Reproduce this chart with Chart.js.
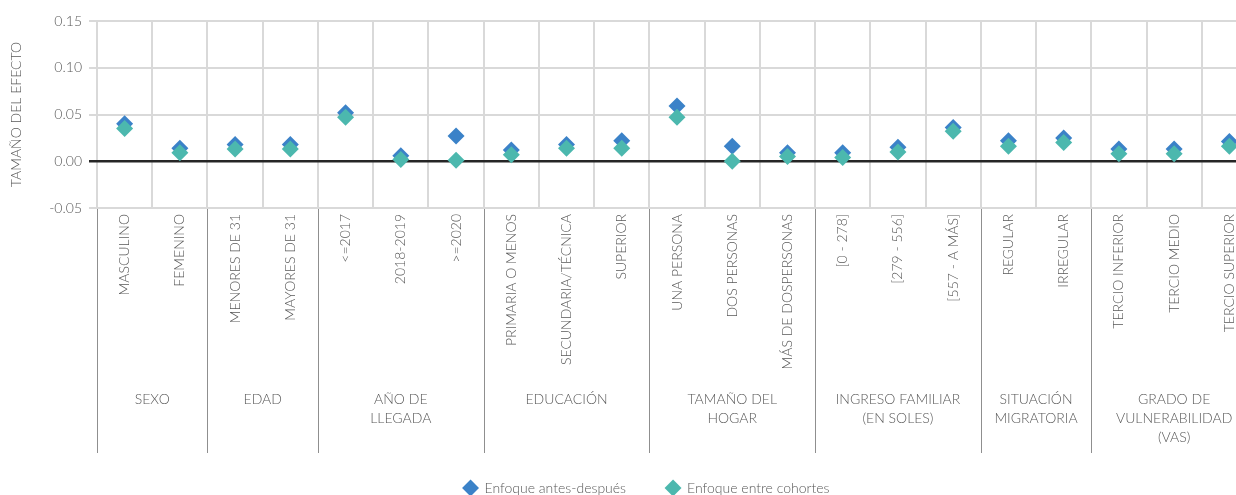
<!DOCTYPE html>
<html><head><meta charset="utf-8">
<script src="https://cdn.jsdelivr.net/npm/chart.js@4.4.1/dist/chart.umd.min.js"></script>
<style>
html,body{margin:0;padding:0;overflow:hidden;background:#fff;width:1236px;height:495px}
#wrap{position:absolute;left:0;top:0;width:1292px;height:495px}
</style></head><body>
<div id="wrap"><canvas id="c" width="1292" height="495"></canvas></div>
<script>
const categories = ["MASCULINO","FEMENINO","MENORES DE 31","MAYORES DE 31","<=2017","2018-2019",">=2020",
  "PRIMARIA O MENOS","SECUNDARIA/TÉCNICA","SUPERIOR","UNA PERSONA","DOS PERSONAS","MÁS DE DOSPERSONAS",
  "[0 - 278]","[279 - 556]","[557 - A MÁS]","REGULAR","IRREGULAR","TERCIO INFERIOR","TERCIO MEDIO","TERCIO SUPERIOR"];
const groupLabels = [["SEXO"],["EDAD"],["AÑO DE","LLEGADA"],["EDUCACIÓN"],["TAMAÑO DEL","HOGAR"],
  ["INGRESO FAMILIAR","(EN SOLES)"],["SITUACIÓN","MIGRATORIA"],["GRADO DE","VULNERABILIDAD","(VAS)"]];
const groupSizes = [2,2,3,3,3,3,2,3];
const antesDespues = [0.040,0.014,0.018,0.018,0.052,0.006,0.027,0.012,0.018,0.022,0.059,0.016,0.009,0.009,0.015,0.036,0.022,0.025,0.013,0.013,0.021];
const entreCohortes = [0.035,0.009,0.013,0.013,0.047,0.002,0.001,0.007,0.014,0.014,0.047,0.000,0.005,0.004,0.010,0.032,0.016,0.020,0.008,0.008,0.016];
const yTicks = [-0.05,0,0.05,0.10,0.15];
const seriesNames = ["Enfoque antes-después","Enfoque entre cohortes"];

const FONT = "Lato, 'Open Sans', sans-serif";
const WEIGHT = "300";
const TXT = "#595959";
const BLUE = "#3b82c8";
const TEAL = "#4cb8ae";

const legendShift = {
  id:'legendShift',
  afterLayout(chart){
    const lg = chart.legend;
    if (lg) { lg.left += 15; lg.right += 15; }
  }
};

const groupPlugin = {
  id:'groups',
  afterDraw(chart){
    const xs = chart.scales.x, ctx = chart.ctx, area = chart.chartArea;
    ctx.save();
    ctx.strokeStyle = '#8f8f8f';
    ctx.lineWidth = 1;
    let start = 0;
    const bounds = [xs.getPixelForValue(-0.5)];
    groupSizes.forEach(n => { start += n; bounds.push(xs.getPixelForValue(start - 0.5)); });
    bounds.forEach(px => {
      const x = Math.round(px) + 0.5;
      ctx.beginPath(); ctx.moveTo(x, area.bottom + 1); ctx.lineTo(x, 453); ctx.stroke();
    });
    ctx.fillStyle = TXT;
    ctx.font = WEIGHT + " 14px " + FONT;
    ctx.textAlign = 'center'; ctx.textBaseline = 'middle';
    groupLabels.forEach((lines, i) => {
      const cx = (bounds[i] + bounds[i+1]) / 2;
      lines.forEach((t, j) => ctx.fillText(t, cx, 399 + j*19));
    });
    ctx.restore();
  }
};

const f14 = {family:FONT, size:14, weight:WEIGHT};

new Chart(document.getElementById('c'), {
  type:'line',
  data:{
    labels: categories,
    datasets:[
      {label:seriesNames[0], data:antesDespues, showLine:false, pointStyle:'rectRot', pointRadius:8.5, pointHoverRadius:8.5,
       backgroundColor:BLUE, borderColor:BLUE, borderWidth:0, order:2},
      {label:seriesNames[1], data:entreCohortes, showLine:false, pointStyle:'rectRot', pointRadius:8.5, pointHoverRadius:8.5,
       backgroundColor:TEAL, borderColor:TEAL, borderWidth:0, order:1}
    ]
  },
  options:{
    responsive:false, animation:false,
    layout:{padding:{top:21,left:6,right:35,bottom:-10}},
    plugins:{
      legend:{position:'bottom', labels:{usePointStyle:true, pointStyle:'rectRot', boxWidth:14, boxHeight:12,
        padding:40, color:TXT, font:f14, sort:(a,b)=>a.datasetIndex-b.datasetIndex}},
      tooltip:{enabled:false}
    },
    scales:{
      x:{
        type:'category', offset:true,
        grid:{offset:true, color:'#d9d9d9', lineWidth:2, drawTicks:false},
        border:{display:false},
        ticks:{minRotation:90, maxRotation:90, autoSkip:false, padding:6, color:TXT, font:f14},
        afterFit(s){ s.height = 233; }
      },
      y:{
        min:-0.05, max:0.15,
        afterBuildTicks(s){ s.ticks = yTicks.map(v=>({value:v})); },
        ticks:{color:TXT, font:f14, padding:7, callback:v=>Number(v).toFixed(2)},
        grid:{color:c=>Math.abs(c.tick.value)<1e-9?'#262626':'#d9d9d9', lineWidth:c=>Math.abs(c.tick.value)<1e-9?2.5:2, tickLength:8},
        border:{display:false},
        title:{display:true, text:'TAMAÑO DEL EFECTO', color:TXT, font:f14, padding:{top:2,bottom:2}},
        afterFit(s){ s.width = 91; }
      }
    }
  },
  plugins:[legendShift, groupPlugin]
});
</script>
</body></html>
